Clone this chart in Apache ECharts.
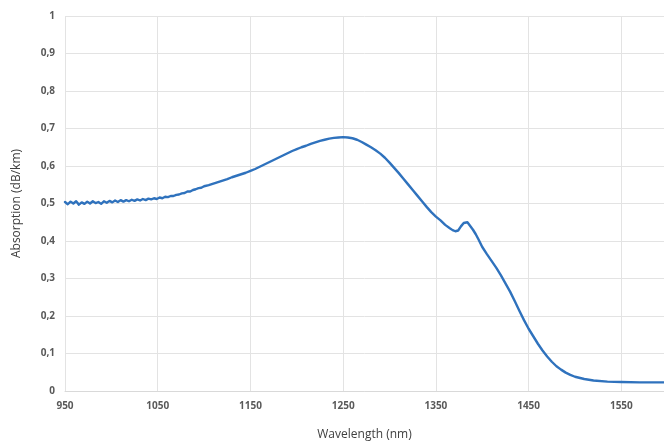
<!DOCTYPE html>
<html>
<head>
<meta charset="utf-8">
<script src="https://cdn.jsdelivr.net/npm/echarts@6/dist/echarts.min.js"></script>
<style>html,body{margin:0;padding:0;background:#fff;}#c{width:664px;height:447px;}</style>
</head>
<body>
<div id="c"></div>
<script>
// [wavelength (nm), absorption (dB/km)]
const spectrum = [
[950,.504],[953,.498],[956,.505],[959,.500],[962,.506],[965,.497],[968,.503],[971,.499],[974,.505],[977,.500],
[980,.506],[983,.501],[986,.504],[989,.499],[992,.506],[995,.502],[998,.507],[1001,.503],[1004,.508],[1007,.504],
[1010,.509],[1013,.505],[1016,.509],[1019,.506],[1022,.510],[1025,.507],[1028,.511],[1031,.508],[1034,.512],[1037,.509],
[1040,.513],[1043,.511],[1046,.514],[1049,.512],[1052,.516],[1055,.514],[1058,.518],[1061,.517],[1064,.520],[1067,.520],
[1070,.523],[1073,.524],[1076,.527],[1079,.528],[1082,.532],[1085,.532],[1088,.536],[1091,.538],[1094,.541],[1097,.542],
[1100,.546],[1105,.549],[1110,.553],[1115,.557],[1120,.561],[1125,.565],[1130,.570],[1135,.574],[1140,.578],[1145,.582],
[1150,.587],[1155,.592],[1160,.598],[1165,.604],[1170,.610],[1175,.616],[1180,.622],[1185,.628],[1190,.634],[1195,.640],
[1200,.645],[1205,.650],[1210,.654],[1215,.659],[1220,.663],[1225,.667],[1230,.670],[1235,.673],[1240,.675],[1245,.676],
[1250,.677],[1255,.676],[1260,.674],[1265,.670],[1270,.664],[1275,.657],[1280,.650],[1285,.642],[1290,.633],[1295,.622],
[1300,.609],[1305,.595],[1310,.581],[1315,.566],[1320,.551],[1325,.536],[1330,.521],[1335,.506],[1340,.491],[1345,.477],
[1350,.465],[1355,.455],[1360,.443],[1365,.434],[1368,.429],[1371,.426],[1374,.428],[1377,.439],[1380,.448],[1382,.451],
[1384,.450],[1387,.440],[1390,.430],[1393,.418],[1396,.404],[1400,.384],[1405,.365],[1410,.347],[1415,.329],[1420,.309],
[1425,.287],[1430,.265],[1435,.240],[1440,.214],[1445,.189],[1450,.166],[1455,.146],[1460,.126],[1465,.108],[1470,.092],
[1475,.078],[1480,.066],[1485,.057],[1490,.049],[1495,.043],[1500,.038],[1510,.032],[1520,.028],[1535,.025],[1550,.024],
[1570,.023],[1596,.023]
];
const xTitle = 'Wavelength (nm)';
const yTitle = 'Absorption (dB/km)';

const chart = echarts.init(document.getElementById('c'));
const lbl = {fontFamily:'Open Sans', fontSize:10, color:'#595959', fontWeight:'bold'};
chart.setOption({
  animation:false,
  grid:{left:65, right:0, top:16, bottom:56, containLabel:false},
  xAxis:{
    type:'value', min:950, max:1596, interval:100,
    name:xTitle, nameLocation:'middle', nameGap:38,
    nameTextStyle:{fontFamily:'Open Sans', fontSize:12, color:'#404040'},
    axisLine:{show:true, lineStyle:{color:'#d9d9d9'}},
    axisTick:{show:false},
    axisLabel:Object.assign({margin:10, showMaxLabel:false, formatter:v=>String(v)}, lbl),
    splitLine:{show:true, lineStyle:{color:'#e3e3e3'}}
  },
  yAxis:{
    type:'value', min:0, max:1, interval:0.1,
    name:yTitle, nameLocation:'middle', nameGap:42,
    nameTextStyle:{fontFamily:'Open Sans', fontSize:12, color:'#404040'},
    axisLine:{show:false}, axisTick:{show:false},
    axisLabel:Object.assign({margin:10, formatter:v=>String(Math.round(v*10)/10).replace('.',',')}, lbl),
    splitLine:{show:true, lineStyle:{color:'#e3e3e3'}}
  },
  series:[{
    type:'line', showSymbol:false, smooth:false,
    data:spectrum,
    lineStyle:{color:'#2f72bd', width:2.4, join:'round', cap:'round'}
  }]
});
</script>
</body>
</html>
